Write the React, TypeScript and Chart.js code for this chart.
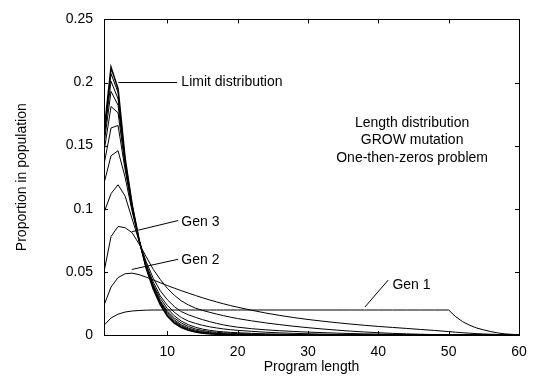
import React, { useEffect, useRef } from 'react';
import { Chart, registerables } from 'chart.js';

Chart.register(...registerables);

// Program lengths at which the distributions are sampled
const lengths = [1, 2, 3, 4, 5, 6, 7, 8, 9, 10, 11, 12, 13, 14, 15, 16, 17, 18, 19, 20,
  22, 24, 26, 28, 30, 32, 34, 36, 38, 40, 42, 44, 46, 48, 50,
  51, 52, 53, 54, 55, 56, 57, 58, 59, 60];

const gen1 = [0.0077, 0.0135, 0.0165, 0.0182, 0.019, 0.0194, 0.0197, 0.0198, 0.0198, 0.0198,
  0.0198, 0.0198, 0.0198, 0.0198, 0.0198, 0.0198, 0.0198, 0.0198, 0.0198, 0.0198,
  0.0198, 0.0198, 0.0198, 0.0198, 0.0198, 0.0198, 0.0198, 0.0198, 0.0198, 0.0198, 0.0198, 0.0198, 0.0198, 0.0198, 0.0198,
  0.0145, 0.0105, 0.0077, 0.0055, 0.004, 0.0027, 0.0016, 0.0009, 0.0005, 0.0002];

const gen2 = [0.0235, 0.038, 0.0455, 0.0485, 0.049, 0.0478, 0.0458, 0.0436, 0.0414, 0.0392,
  0.0371, 0.0351, 0.0332, 0.0313, 0.0295, 0.0278, 0.0262, 0.0247, 0.0233, 0.022,
  0.0196, 0.0174, 0.0155, 0.0138, 0.0123, 0.011, 0.0098, 0.0087, 0.0077, 0.0068, 0.006, 0.0052, 0.0044, 0.0036, 0.0027,
  0.0022, 0.0018, 0.0014, 0.0011, 0.0008, 0.0006, 0.0004, 0.0003, 0.0002, 0.0001];

const gen3 = [0.05, 0.078, 0.086, 0.085, 0.081, 0.072, 0.062, 0.052, 0.044, 0.037,
  0.0315, 0.027, 0.0238, 0.0213, 0.0195, 0.018, 0.0166, 0.0153, 0.0141, 0.013,
  0.0112, 0.0096, 0.0082, 0.0069, 0.0058, 0.0048, 0.0039, 0.0031, 0.0024, 0.0018, 0.0013, 0.0009, 0.0006, 0.0003, 0.0002,
  0.0001, 0.0001, 0, 0, 0, 0, 0, 0, 0, 0];

const gen4 = [0.097, 0.112, 0.119, 0.11, 0.092, 0.074, 0.058, 0.045, 0.035, 0.028,
  0.0225, 0.0185, 0.016, 0.014, 0.0122, 0.0106, 0.0092, 0.008, 0.007, 0.0062,
  0.005, 0.0041, 0.0034, 0.0028, 0.0023, 0.0019, 0.0015, 0.0012, 0.0009, 0.0007, 0.0005, 0.0004, 0.0003, 0.0002, 0.0001,
  0, 0, 0, 0, 0, 0, 0, 0, 0, 0];

const gen5 = [0.12, 0.142, 0.146, 0.125, 0.098, 0.075, 0.056, 0.042, 0.031, 0.0235,
  0.018, 0.0138, 0.011, 0.0092, 0.0077, 0.0065, 0.0056, 0.0048, 0.0042, 0.0037,
  0.0029, 0.0022, 0.0017, 0.0013, 0.001, 0.0007, 0.0005, 0.0004, 0.0003, 0.0002, 0.0001, 0.0001, 0, 0, 0,
  0, 0, 0, 0, 0, 0, 0, 0, 0, 0];

const gen6 = [0.135, 0.164, 0.166, 0.131, 0.1, 0.075, 0.055, 0.04, 0.029, 0.021,
  0.0152, 0.011, 0.0081, 0.0061, 0.0047, 0.0037, 0.003, 0.0025, 0.0021, 0.0018,
  0.0013, 0.0009, 0.0007, 0.0005, 0.0004, 0.0003, 0.0002, 0.0001, 0.0001, 0, 0, 0, 0, 0, 0,
  0, 0, 0, 0, 0, 0, 0, 0, 0, 0];

const gen7 = [0.145, 0.181, 0.176, 0.134, 0.101, 0.075, 0.054, 0.039, 0.027, 0.019,
  0.0135, 0.0095, 0.0067, 0.0048, 0.0036, 0.0027, 0.0021, 0.0017, 0.0014, 0.0011,
  0.0008, 0.0005, 0.0003, 0.0002, 0.0001, 0.0001, 0, 0, 0, 0, 0, 0, 0, 0, 0,
  0, 0, 0, 0, 0, 0, 0, 0, 0, 0];

const gen8 = [0.151, 0.193, 0.182, 0.136, 0.102, 0.075, 0.0535, 0.038, 0.0262, 0.0178,
  0.012, 0.0081, 0.0055, 0.0038, 0.0027, 0.0019, 0.0014, 0.001, 0.0008, 0.0006,
  0.0004, 0.0002, 0.0001, 0.0001, 0, 0, 0, 0, 0, 0, 0, 0, 0, 0, 0,
  0, 0, 0, 0, 0, 0, 0, 0, 0, 0];

const gen9 = [0.155, 0.201, 0.187, 0.138, 0.102, 0.075, 0.0532, 0.0374, 0.0254, 0.0168,
  0.011, 0.0072, 0.0047, 0.0031, 0.0021, 0.0014, 0.001, 0.0007, 0.0005, 0.0003,
  0.0002, 0.0001, 0, 0, 0, 0, 0, 0, 0, 0, 0, 0, 0, 0, 0,
  0, 0, 0, 0, 0, 0, 0, 0, 0, 0];

const gen10 = [0.158, 0.207, 0.192, 0.139, 0.103, 0.075, 0.0531, 0.037, 0.0245, 0.0158,
  0.0101, 0.0065, 0.0041, 0.0026, 0.0017, 0.0011, 0.0007, 0.0005, 0.0003, 0.0002,
  0.0001, 0, 0, 0, 0, 0, 0, 0, 0, 0, 0, 0, 0, 0, 0,
  0, 0, 0, 0, 0, 0, 0, 0, 0, 0];

const limitDist = [0.16, 0.212, 0.195, 0.14, 0.103, 0.075, 0.053, 0.0365, 0.024, 0.015,
  0.0095, 0.006, 0.0038, 0.0024, 0.0015, 0.001, 0.0006, 0.0004, 0.0002, 0.0001,
  0, 0, 0, 0, 0, 0, 0, 0, 0, 0, 0, 0, 0, 0, 0,
  0, 0, 0, 0, 0, 0, 0, 0, 0, 0];

const seriesNames = ['Gen 1', 'Gen 2', 'Gen 3', 'Gen 4', 'Gen 5', 'Gen 6', 'Gen 7', 'Gen 8', 'Gen 9', 'Gen 10', 'Limit distribution'];
const seriesValues = [gen1, gen2, gen3, gen4, gen5, gen6, gen7, gen8, gen9, gen10, limitDist];

const xTicks = [10, 20, 30, 40, 50, 60];
const xTickLabels = ['10', '20', '30', '40', '50', '60'];
const yTicks = [0, 0.05, 0.1, 0.15, 0.2, 0.25];
const yTickLabels = ['0', '0.05', '0.1', '0.15', '0.2', '0.25'];

const xTitle = 'Program length';
const yTitle = 'Proportion in population';

// Callout labels (data coordinates): label anchor, pointer start on curve, pointer end at label
const calloutTexts = ['Limit distribution', 'Gen 3', 'Gen 2', 'Gen 1'];
const calloutAnchors = [[12, 0.2], [12, 0.0895], [12, 0.0596], [42, 0.0396]];
const calloutFrom = [[3.05, 0.2], [4.95, 0.0818], [4.95, 0.0519], [38.1, 0.0222]];
const calloutTo = [[11.4, 0.2], [11.55, 0.0907], [11.55, 0.06], [41.4, 0.0435]];

const infoLines = ['Length distribution', 'GROW mutation', 'One-then-zeros problem'];
const infoX = 44.8;
const infoY = [0.168, 0.154, 0.14];

const FONT = '"Liberation Sans", Arial, Helvetica, sans-serif';
const FS = 14;

const framePlugin = {
  id: 'frameAndNotes',
  afterDraw(chart: any) {
    const { ctx, chartArea: a, scales } = chart;
    const xs = scales.x;
    const ys = scales.y;
    ctx.save();
    ctx.strokeStyle = '#000';
    ctx.lineWidth = 1;
    ctx.strokeRect(Math.round(a.left) + 0.5, Math.round(a.top) + 0.5,
      Math.round(a.right) - Math.round(a.left), Math.round(a.bottom) - Math.round(a.top));
    const tl = 4;
    ctx.beginPath();
    xTicks.forEach((v) => {
      const px = Math.round(xs.getPixelForValue(v)) + 0.5;
      ctx.moveTo(px, a.bottom);
      ctx.lineTo(px, a.bottom - tl);
      ctx.moveTo(px, a.top);
      ctx.lineTo(px, a.top + tl);
    });
    yTicks.forEach((v) => {
      const py = Math.round(ys.getPixelForValue(v)) + 0.5;
      ctx.moveTo(a.left, py);
      ctx.lineTo(a.left + tl, py);
      ctx.moveTo(a.right, py);
      ctx.lineTo(a.right - tl, py);
    });
    ctx.stroke();

    // callouts
    ctx.font = `${FS}px ${FONT}`;
    ctx.fillStyle = '#000';
    ctx.textBaseline = 'middle';
    ctx.textAlign = 'left';
    calloutTexts.forEach((t, i) => {
      ctx.beginPath();
      ctx.moveTo(xs.getPixelForValue(calloutFrom[i][0]), ys.getPixelForValue(calloutFrom[i][1]));
      ctx.lineTo(xs.getPixelForValue(calloutTo[i][0]), ys.getPixelForValue(calloutTo[i][1]));
      ctx.stroke();
      ctx.fillText(t, xs.getPixelForValue(calloutAnchors[i][0]), ys.getPixelForValue(calloutAnchors[i][1]));
    });
    ctx.textAlign = 'center';
    infoLines.forEach((t, i) => {
      ctx.fillText(t, xs.getPixelForValue(infoX), ys.getPixelForValue(infoY[i]));
    });
    ctx.restore();
  },
};

export default function App() {
  const ref = useRef<HTMLCanvasElement>(null);
  useEffect(() => {
    const canvas = ref.current;
    if (!canvas) return;
    Chart.defaults.font.family = FONT;
    Chart.defaults.font.size = FS;
    Chart.defaults.color = '#000';
    const datasets = seriesValues.map((vals, i) => ({
      label: seriesNames[i],
      data: lengths.map((x, j) => ({ x, y: vals[j] })),
      borderColor: '#000',
      borderWidth: i === seriesValues.length - 1 ? 1.6 : 1,
      pointRadius: 0,
      fill: false,
      tension: 0,
    }));
    const chart = new Chart(canvas, {
      type: 'line',
      data: { datasets },
      options: {
        animation: false,
        responsive: false,
        devicePixelRatio: 1,
        layout: { padding: { top: 9, right: 20, left: 0, bottom: 0 } },
        plugins: { legend: { display: false }, tooltip: { enabled: false } },
        scales: {
          x: {
            type: 'linear',
            min: 1,
            max: 60,
            grid: { display: false, drawTicks: false },
            border: { display: false },
            afterBuildTicks: (s: any) => { s.ticks = xTicks.map((v) => ({ value: v })); },
            afterFit: (s: any) => { s.height = 48; },
            ticks: {
              color: '#000', padding: 9, maxRotation: 0, autoSkip: false,
              font: { size: FS, family: FONT },
              callback: (_v: any, i: number) => xTickLabels[i],
            },
            title: { display: true, text: xTitle, color: '#000', font: { size: FS, family: FONT }, padding: { top: 0, bottom: 7 } },
          },
          y: {
            type: 'linear',
            min: 0,
            max: 0.25,
            grid: { display: false, drawTicks: false },
            border: { display: false },
            afterBuildTicks: (s: any) => { s.ticks = yTicks.map((v) => ({ value: v })); },
            afterFit: (s: any) => { s.width = 104; },
            ticks: {
              color: '#000', padding: 11, autoSkip: false,
              font: { size: FS, family: FONT },
              callback: (_v: any, i: number) => yTickLabels[i],
            },
            title: { display: true, text: yTitle, color: '#000', font: { size: FS, family: FONT }, padding: { top: 14, bottom: 0 } },
          },
        },
      },
      plugins: [framePlugin],
    } as any);
    return () => chart.destroy();
  }, []);
  return (
    <div style={{ position: 'fixed', left: 0, top: 0, width: 539, height: 383, background: '#fff' }}>
      <canvas ref={ref} width={539} height={383} style={{ display: 'block', width: 539, height: 383 }} />
    </div>
  );
}
